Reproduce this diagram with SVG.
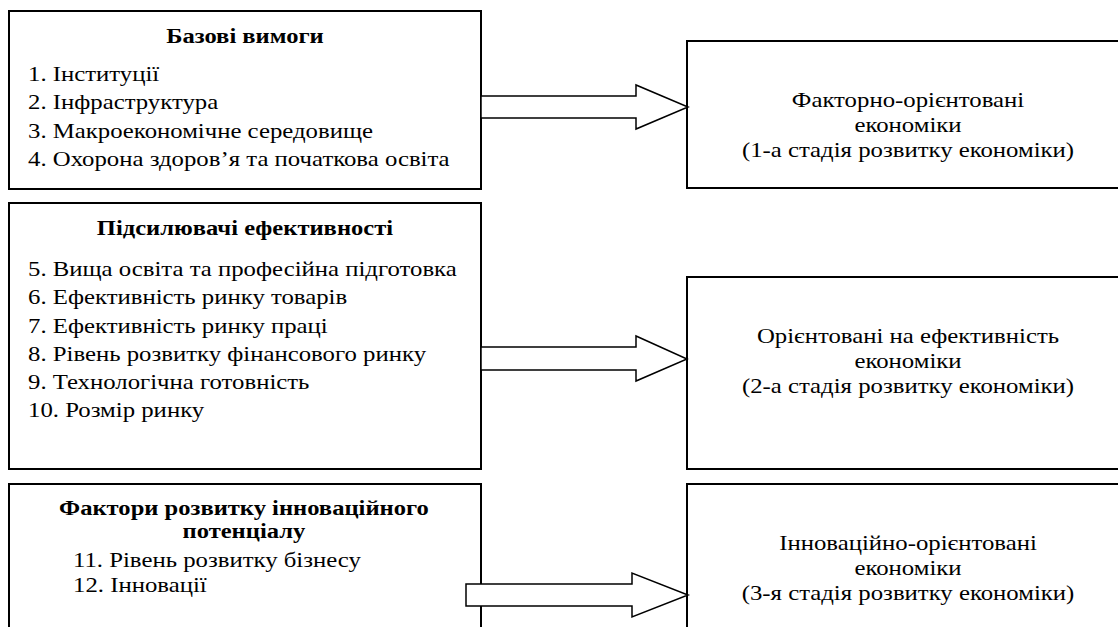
<svg xmlns="http://www.w3.org/2000/svg" width="1118" height="627" viewBox="0 0 1118 627">
<style>
.box{fill:#fff;stroke:#000;stroke-width:2}
.arr{fill:#fff;stroke:#000;stroke-width:1.5;stroke-linejoin:miter}
text{font-family:"Liberation Serif","Times New Roman",serif;fill:#000}
.t{font-size:21px;font-weight:bold;text-anchor:middle}
.i{font-size:21px}
.r{font-size:21px;text-anchor:middle}
</style>
<rect width="1118" height="627" fill="#fff"/>
<g id="base">
<rect class="box" x="9" y="11" width="472" height="178"/>
<g transform="scale(1.17 1)"><text class="t" x="209.4" y="43">Базові вимоги</text></g>
<g transform="scale(1.18 1)">
<text class="i" x="23.73" y="81">1. Інституції</text>
<text class="i" x="23.73" y="109">2. Інфраструктура</text>
<text class="i" x="23.73" y="138">3. Макроекономічне середовище</text>
<text class="i" x="23.73" y="166">4. Охорона здоров’я та початкова освіта</text>
</g>
</g>
<g id="efficiency">
<rect class="box" x="9" y="203" width="472" height="266"/>
<g transform="scale(1.17 1)"><text class="t" x="209.4" y="235">Підсилювачі ефективності</text></g>
<g transform="scale(1.18 1)">
<text class="i" x="23.73" y="276">5. Вища освіта та професійна підготовка</text>
<text class="i" x="23.73" y="304">6. Ефективність ринку товарів</text>
<text class="i" x="23.73" y="333">7. Ефективність ринку праці</text>
<text class="i" x="23.73" y="361">8. Рівень розвитку фінансового ринку</text>
<text class="i" x="23.73" y="389">9. Технологічна готовність</text>
<text class="i" x="23.73" y="417">10. Розмір ринку</text>
</g>
</g>
<g id="innovation">
<rect class="box" x="9" y="484" width="472" height="160"/>
<g transform="scale(1.17 1)">
<text class="t" x="208.5" y="515">Фактори розвитку інноваційного</text>
<text class="t" x="208.5" y="538">потенціалу</text>
</g>
<g transform="scale(1.18 1)">
<text class="i" x="61.86" y="567">11. Рівень розвитку бізнесу</text>
<text class="i" x="61.86" y="592">12. Інновації</text>
</g>
</g>
<g id="stage1">
<rect class="box" x="687" y="41" width="450" height="147"/>
<g transform="scale(1.18 1)">
<text class="r" x="769.5" y="107">Факторно-орієнтовані</text>
<text class="r" x="769.5" y="132">економіки</text>
<text class="r" x="769.5" y="157">(1-а стадія розвитку економіки)</text>
</g>
</g>
<g id="stage2">
<rect class="box" x="687" y="277" width="450" height="192"/>
<g transform="scale(1.18 1)">
<text class="r" x="769.5" y="343">Орієнтовані на ефективність</text>
<text class="r" x="769.5" y="368">економіки</text>
<text class="r" x="769.5" y="393">(2-а стадія розвитку економіки)</text>
</g>
</g>
<g id="stage3">
<rect class="box" x="687" y="484" width="450" height="160"/>
<g transform="scale(1.18 1)">
<text class="r" x="769.5" y="550">Інноваційно-орієнтовані</text>
<text class="r" x="769.5" y="575">економіки</text>
<text class="r" x="769.5" y="600">(3-я стадія розвитку економіки)</text>
</g>
</g>
<g id="connectors">
<polygon class="arr" points="481,96 636,96 636,85 688,107 636,129 636,118 481,118"/>
<polygon class="arr" points="481,347 636,347 636,336 687,359 636,381 636,370 481,370"/>
<polygon class="arr" points="466,584 632,584 632,573 688,595 632,617 632,606 466,606"/>
</g>
</svg>
